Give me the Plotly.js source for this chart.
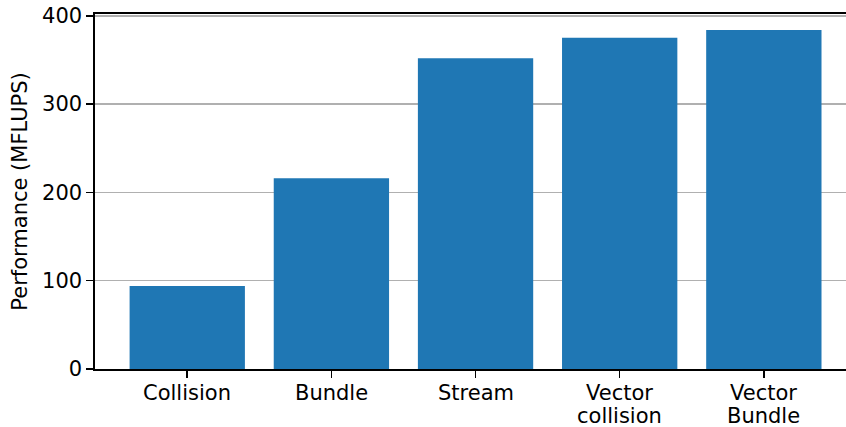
<!DOCTYPE html>
<html>
<head>
<meta charset="utf-8">
<script src="https://cdn.plot.ly/plotly-3.0.1.min.js"></script>
<style>
  html, body { margin: 0; padding: 0; background: #ffffff; }
  #chart { width: 846px; height: 427px; }
</style>
</head>
<body>
<div id="chart"></div>
<script>
// Kernel variants and their measured throughput
const kernels = ["Collision", "Bundle", "Stream", "Vector collision", "Vector Bundle"];
const mflups = [94, 216, 352, 375, 384];
const yTicks = [0, 100, 200, 300, 400];
// Category labels as they are wrapped under the axis
const labelLines = [["Collision"], ["Bundle"], ["Stream"], ["Vector", "collision"], ["Vector", "Bundle"]];

const font = { family: "DejaVu Sans, sans-serif", size: 21, color: "#000000" };

const trace = {
  type: "bar",
  x: kernels,
  y: mflups,
  marker: { color: "#1f77b4", line: { width: 0 } },
  hoverinfo: "skip"
};

// Tight two-line category labels (line spacing ~1.1em)
const annotations = [];
labelLines.forEach((lines, i) => {
  lines.forEach((txt, j) => {
    annotations.push({
      xref: "x", yref: "paper",
      x: kernels[i], y: 0,
      text: txt,
      showarrow: false,
      xanchor: "center", yanchor: "middle",
      borderpad: 0,
      yshift: -23.5 - j * 23,
      font: font
    });
  });
});

const layout = {
  width: 846,
  height: 427,
  margin: { l: 95, r: 0, t: 14, b: 58 },
  paper_bgcolor: "#ffffff",
  plot_bgcolor: "#ffffff",
  font: font,
  showlegend: false,
  bargap: 0.2,
  annotations: annotations,
  xaxis: {
    type: "category",
    range: [-0.64, 4.57],
    showline: true,
    mirror: true,
    linecolor: "#000000",
    linewidth: 1.6,
    ticks: "outside",
    ticklen: 7,
    tickwidth: 1.6,
    tickcolor: "#000000",
    showgrid: false,
    zeroline: false,
    showticklabels: false
  },
  yaxis: {
    range: [0, 402],
    tickvals: yTicks,
    ticktext: yTicks.map(String),
    showline: true,
    linecolor: "#000000",
    linewidth: 1.6,
    ticks: "outside",
    ticklen: 7,
    tickwidth: 1.6,
    tickcolor: "#000000",
    showgrid: true,
    gridcolor: "#b0b0b0",
    gridwidth: 1.6,
    zeroline: false,
    tickfont: font,
    title: { text: "Performance (MFLUPS)", font: font, standoff: 9 }
  }
};

Plotly.newPlot("chart", [trace], layout, { staticPlot: true, displayModeBar: false });
</script>
</body>
</html>
